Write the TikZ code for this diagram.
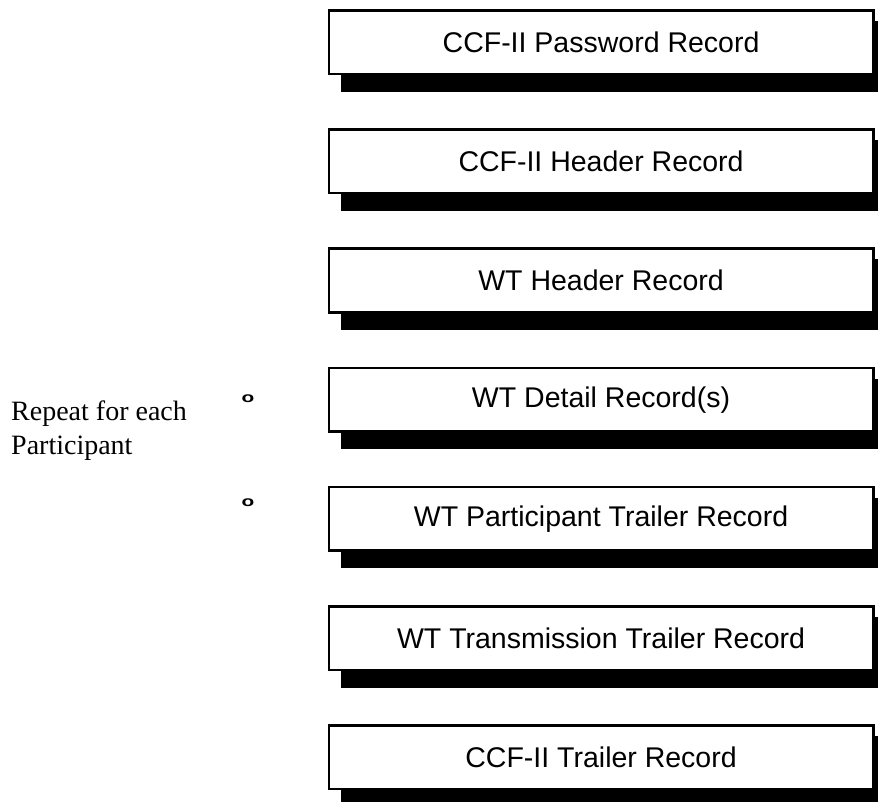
\documentclass[tikz,border=0pt]{standalone}
\usepackage{fontspec}
\setmainfont{Liberation Serif}
\newfontfamily\boxfont{Liberation Sans}
\begin{document}
\begin{tikzpicture}[x=1pt,y=-1pt,
  recbox/.style={draw=black,line width=2.6pt,fill=white,minimum width=544.5pt,minimum height=63.5pt,inner sep=0pt,anchor=north west,font=\boxfont\fontsize{28.5}{32}\selectfont},
  bullet/.style={font=\boxfont\bfseries\fontsize{16}{18}\selectfont,inner sep=0pt,xscale=1.3,yscale=0.9}]
\useasboundingbox (0,0) rectangle (878,801);
\foreach \i/\t in {0/{CCF-II Password Record},1/{CCF-II Header Record},2/{WT Header Record},3/{WT Detail Record(s)},4/{WT Participant Trailer Record},5/{WT Transmission Trailer Record},6/{CCF-II Trailer Record}}{
  \node[recbox] (b\i) at (327.5,{9+119.2*\i}) {\t};
  \fill[black] ([xshift=13pt]b\i.south west) rectangle ([xshift=6pt,yshift=-16.5pt]b\i.south east);
  \fill[black] ([yshift=-12pt]b\i.north east) rectangle ([xshift=6pt]b\i.south east);
}
\node[bullet] (o1) at (248,399) {o};
\node[bullet] (o2) at (248,503) {o};
\node[anchor=base west,align=left,font=\fontsize{28}{34}\selectfont,inner sep=0pt] (rep) at (11,454) {Repeat for each\\Participant};
\end{tikzpicture}
\end{document}
